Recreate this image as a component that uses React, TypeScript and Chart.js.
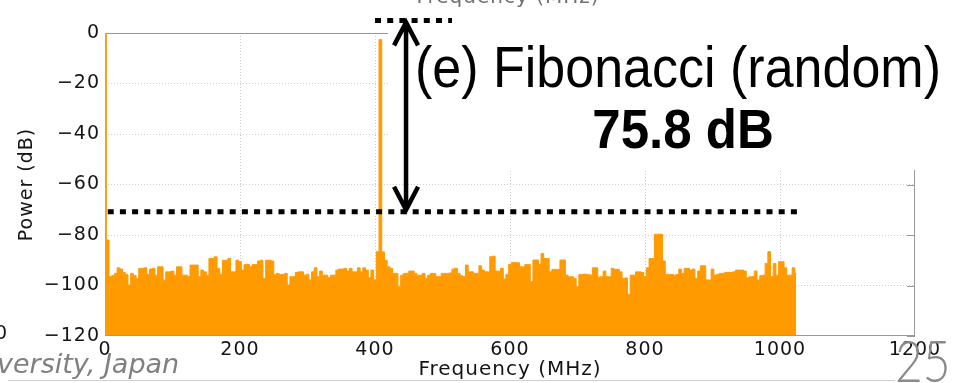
import { useEffect, useRef } from 'react';
import { Chart, registerables } from 'chart.js';

Chart.register(...registerables);

// Spectrum bins (MHz spacing) and measured power per bin (dB)
const BIN_STEP_MHZ = 4;
const powerDb: number[] = [
  0, -82, -96.5, -96, -95.2, -93, -93.5, -94.8, -95.6, -99.8,
  -95.2, -96, -97.2, -93.2, -93.2, -93, -95.6, -93.5, -93.2, -95.9,
  -92.6, -92.6, -97.9, -94.6, -94.6, -94.3, -95.9, -92.6, -92.6, -95.9,
  -95.9, -96.5, -91.9, -91.9, -91.9, -96.5, -93.9, -94.6, -95.9, -89.3,
  -89.3, -88.6, -93.2, -95.6, -90, -90, -89.3, -94.6, -94.6, -90,
  -90.6, -93.9, -91.7, -91.7, -92.6, -91.7, -91.7, -90.3, -90, -97.2,
  -90, -90, -90.3, -95.7, -95.2, -95.6, -95.6, -95.2, -99.8, -96.5,
  -96.5, -94.8, -94.6, -94.6, -95.9, -95.6, -97.8, -94.6, -93, -96.5,
  -94.3, -95.9, -95.9, -96.9, -95.9, -95.9, -93.9, -93.5, -93.5, -93.2,
  -94.3, -93.2, -94.6, -94.6, -93, -94.6, -93, -93.9, -96.9, -93.9,
  -97.8, -86.6, -2.6, -86.7, -90, -92.6, -93.2, -95.2, -95.2, -100.5,
  -95.9, -95.2, -95.2, -94.3, -94.3, -95.2, -95.9, -95.9, -95.2, -97.2,
  -95.9, -95.2, -95.2, -96.5, -96.5, -95.2, -95.2, -95.2, -95, -93.5,
  -93.2, -95.2, -96.1, -96.5, -91.9, -94.6, -94.6, -95.2, -95.2, -92.2,
  -93.9, -94.6, -94.6, -88.6, -88.4, -94.3, -94.3, -93.2, -97.4, -95.6,
  -91.7, -90.9, -90.9, -91, -92.6, -92.6, -91.7, -91.7, -98.5, -89.9,
  -89.9, -91.7, -87.3, -89.3, -89.3, -94.6, -93.6, -93.6, -93.6, -89.9,
  -89.9, -95.9, -96.5, -96.5, -97.2, -100.5, -95.6, -95.6, -95.5, -95.6,
  -95.9, -93, -93, -96.7, -96.5, -94.3, -96.5, -96.5, -93.2, -93.6,
  -93.6, -94.6, -97.2, -97, -103.5, -95.9, -95.9, -94.6, -94.6, -94.8,
  -96.5, -93, -89.3, -89.3, -79.7, -79.7, -79.7, -90.3, -95.6, -95.6,
  -95.6, -95.9, -95.6, -93.5, -95.2, -93.2, -93.2, -93.9, -93.5, -97.2,
  -94.3, -92.2, -92.2, -97.8, -97.8, -93.5, -95.9, -95.6, -95.2, -95.2,
  -94.8, -94.8, -94.8, -94.6, -93.9, -93.9, -93.9, -94.3, -96.9, -96.5,
  -96.5, -94.3, -97.8, -96.1, -95.9, -91.3, -86.6, -96.5, -91.3, -95.9,
  -90.6, -90.6, -93, -95.9, -95.9, -93, -95.2,
];
const freqMHz: number[] = powerDb.map((_, i) => i * BIN_STEP_MHZ);

// Axis ticks
const xTickValues = [0, 200, 400, 600, 800, 1000, 1200];
const xTickLabels = ['0', '200', '400', '600', '800', '1000', '1200'];
const yTickValues = [-120, -100, -80, -60, -40, -20, 0];
const yTickLabels = ['\u2212120', '\u2212100', '\u221280', '\u221260', '\u221240', '\u221220', '0'];

// Dynamic-range marker: reference levels, span and arrow position
const rangeTopDb = 5.0;
const rangeSpanDb = 75.8;
const rangeBottomDb = rangeTopDb - rangeSpanDb;
const topRefFromMHz = 400;
const topRefToMHz = 514;
const bottomRefFromMHz = 4;
const bottomRefToMHz = 1030;
const arrowMHz = 446;

const AXIS_FONT = '"DejaVu Sans", sans-serif';
const AXIS_SPACING = '1px';
const AXIS_TEXT = '#151515';
const BAR_COLOR = '#ff9a00';

const boxPlugin = {
  id: 'axesBox',
  beforeDraw(chart: any) {
    // the figure's axis text is set slightly wide
    chart.ctx.letterSpacing = AXIS_SPACING;
  },
  beforeDatasetsDraw(chart: any) {
    const { ctx, chartArea: a } = chart;
    ctx.save();
    ctx.strokeStyle = '#9a9a9a';
    ctx.lineWidth = 1;
    ctx.strokeRect(Math.round(a.left) + 0.5, Math.round(a.top) + 0.5,
      Math.round(a.right - a.left) - 1, Math.round(a.bottom - a.top) - 1);
    ctx.restore();
  },
  afterDatasetsDraw(chart: any) {
    const { ctx, chartArea: a, scales } = chart;
    const y = scales.y;
    ctx.save();
    ctx.strokeStyle = '#9a9a9a';
    ctx.lineWidth = 1;
    ctx.beginPath();
    ctx.moveTo(a.left, Math.round(a.bottom) - 0.5);
    ctx.lineTo(a.right, Math.round(a.bottom) - 0.5);
    // inward tick marks on the right edge
    for (const v of yTickValues) {
      const py = Math.round(y.getPixelForValue(v)) + 0.5;
      ctx.moveTo(a.right - 8, py);
      ctx.lineTo(a.right, py);
    }
    ctx.stroke();
    ctx.restore();
  },
};

const slidePlugin = {
  id: 'slideOverlay',
  afterDraw(chart: any) {
    const { ctx, scales } = chart;
    const x = scales.x;
    const y = scales.y;
    const W = chart.width;
    const H = chart.height;
    ctx.save();

    // text panel background
    ctx.fillStyle = '#ffffff';
    ctx.fillRect(388, 6, W - 388, 164);

    // cut-off axis title of the figure above
    ctx.letterSpacing = AXIS_SPACING;
    ctx.fillStyle = '#707070';
    ctx.font = `20px ${AXIS_FONT}`;
    ctx.textAlign = 'center';
    ctx.textBaseline = 'alphabetic';
    ctx.fillText('Frequency (MHz)', 508, 3);

    // cut-off tick label of the neighbouring figure
    ctx.font = `19px ${AXIS_FONT}`;
    ctx.fillStyle = AXIS_TEXT;
    ctx.textAlign = 'right';
    ctx.textBaseline = 'middle';
    ctx.fillText('0', 8, 334);
    ctx.letterSpacing = '0px';

    // reference levels (dotted)
    const yTop = y.getPixelForValue(rangeTopDb);
    const yBot = y.getPixelForValue(rangeBottomDb);
    ctx.strokeStyle = '#000';
    ctx.lineCap = 'butt';
    ctx.lineWidth = 5;
    ctx.setLineDash([6, 6.2]);
    ctx.beginPath();
    ctx.moveTo(x.getPixelForValue(topRefFromMHz), yTop);
    ctx.lineTo(x.getPixelForValue(topRefToMHz), yTop);
    ctx.moveTo(x.getPixelForValue(bottomRefFromMHz), yBot);
    ctx.lineTo(x.getPixelForValue(bottomRefToMHz), yBot);
    ctx.stroke();

    // double-headed arrow
    const ax = x.getPixelForValue(arrowMHz);
    ctx.setLineDash([]);
    ctx.lineWidth = 4.5;
    ctx.lineJoin = 'miter';
    ctx.beginPath();
    ctx.moveTo(ax, yTop + 3);
    ctx.lineTo(ax, yBot - 3);
    ctx.moveTo(ax - 12, yTop + 25);
    ctx.lineTo(ax, yTop + 2);
    ctx.lineTo(ax + 12, yTop + 25);
    ctx.moveTo(ax - 12, yBot - 25);
    ctx.lineTo(ax, yBot - 2);
    ctx.lineTo(ax + 12, yBot - 25);
    ctx.stroke();

    // panel caption
    ctx.fillStyle = '#000';
    ctx.textAlign = 'center';
    ctx.textBaseline = 'alphabetic';
    ctx.save();
    ctx.translate(678, 87);
    ctx.scale(1, 1.1);
    ctx.font = '52px "Liberation Sans", Arial, sans-serif';
    ctx.fillText('(e) Fibonacci (random)', 0, 0);
    ctx.restore();
    ctx.save();
    ctx.translate(683, 148);
    ctx.scale(1, 1.1);
    ctx.font = 'bold 51px "Liberation Sans", Arial, sans-serif';
    ctx.fillText(`${rangeSpanDb.toFixed(1)} dB`, 0, 0);
    ctx.restore();

    // footer rule, affiliation and page number
    ctx.strokeStyle = '#cfcfcf';
    ctx.lineWidth = 1;
    ctx.beginPath();
    ctx.moveTo(8, H - 2.5);
    ctx.lineTo(895, H - 2.5);
    ctx.stroke();

    ctx.fillStyle = '#808080';
    ctx.textAlign = 'left';
    ctx.font = 'italic 27px "DejaVu Sans", sans-serif';
    ctx.fillText('versity, Japan', -3, 373);

    ctx.save();
    ctx.translate(895, 382);
    ctx.scale(0.84, 1);
    ctx.font = '300 57px Lato, "Open Sans", sans-serif';
    ctx.fillStyle = '#8a8a8a';
    ctx.fillText('25', 0, 0);
    ctx.restore();

    ctx.restore();
  },
};

export default function App() {
  const ref = useRef<HTMLCanvasElement>(null);

  useEffect(() => {
    if (!ref.current) return;
    const gridColor = (c: any, lo: number, hi: number) =>
      c.tick && (c.tick.value === lo || c.tick.value === hi) ? 'rgba(0,0,0,0)' : '#cdcdcd';

    const chart = new Chart(ref.current, {
      type: 'line',
      data: {
        datasets: [
          {
            data: freqMHz.map((f, i) => ({ x: f, y: powerDb[i] })),
            stepped: 'middle',
            fill: 'start',
            backgroundColor: BAR_COLOR,
            borderColor: BAR_COLOR,
            borderWidth: 1,
            pointRadius: 0,
          } as any,
        ],
      },
      options: {
        animation: false,
        responsive: false,
        maintainAspectRatio: false,
        layout: { padding: { left: 0, top: 33, right: 42, bottom: 0 } },
        plugins: { legend: { display: false }, tooltip: { enabled: false } },
        scales: {
          x: {
            type: 'linear',
            min: 0,
            max: 1200,
            afterBuildTicks: (s: any) => { s.ticks = xTickValues.map((v) => ({ value: v })); },
            afterFit: (s: any) => { s.height = 47; },
            grid: { drawTicks: false, color: (c: any) => gridColor(c, 0, 1200), lineWidth: 1 },
            border: { display: false, dash: [1, 2] },
            ticks: {
              autoSkip: false,
              maxRotation: 0,
              padding: 3,
              color: AXIS_TEXT,
              font: { family: AXIS_FONT, size: 19 },
              callback: (_v: any, i: number) => xTickLabels[i],
            },
            title: {
              display: true,
              text: 'Frequency (MHz)',
              color: AXIS_TEXT,
              font: { family: AXIS_FONT, size: 20 },
              padding: { top: 0, bottom: 1 },
            },
          },
          y: {
            min: -120,
            max: 0,
            afterBuildTicks: (s: any) => { s.ticks = yTickValues.map((v) => ({ value: v })); },
            afterFit: (s: any) => { s.width = 105; },
            grid: { drawTicks: false, color: (c: any) => gridColor(c, -120, 0), lineWidth: 1 },
            border: { display: false, dash: [1, 2] },
            ticks: {
              padding: 5,
              color: AXIS_TEXT,
              font: { family: AXIS_FONT, size: 19 },
              callback: (_v: any, i: number) => yTickLabels[i],
            },
            title: {
              display: true,
              text: 'Power (dB)',
              color: AXIS_TEXT,
              font: { family: AXIS_FONT, size: 19 },
              padding: { top: 16, bottom: 0 },
            },
          },
        },
      } as any,
      plugins: [boxPlugin, slidePlugin],
    });
    return () => chart.destroy();
  }, []);

  return (
    <div style={{ position: 'fixed', left: 0, top: 0, width: 957, height: 383, background: '#fff' }}>
      <canvas ref={ref} width={957} height={383} style={{ display: 'block', width: 957, height: 383 }} />
    </div>
  );
}
